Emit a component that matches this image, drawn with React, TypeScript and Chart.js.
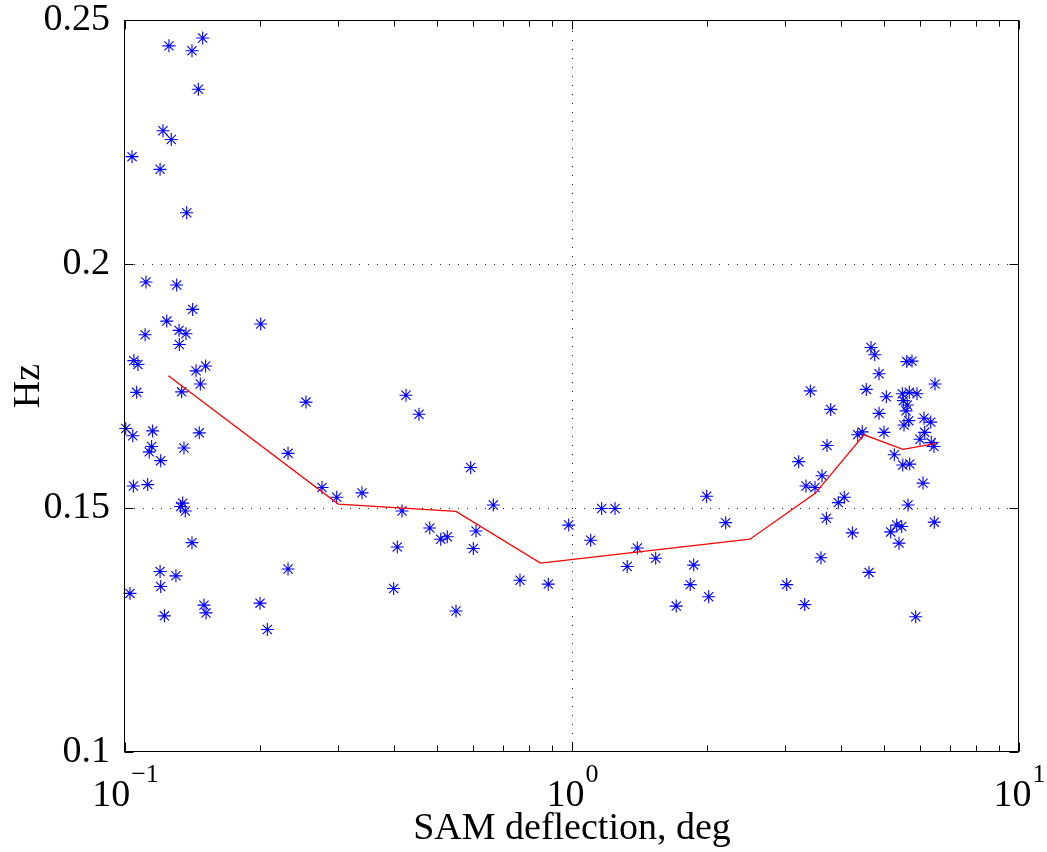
import React, { useEffect, useRef } from 'react';
import { Chart, registerables } from 'chart.js';

Chart.register(...registerables);

// ---- data ----
const samDeflection = [
  0.1254, 0.1492, 0.1412, 0.1459, 0.1216, 0.1269, 0.1037, 0.1198, 0.1374, 0.1114,
  0.1305, 0.1417, 0.1240, 0.1109, 0.1321, 0.1369, 0.1323, 0.1047, 0.1069, 0.1442,
  0.1515, 0.1062, 0.1339, 0.1474, 0.1004, 0.1153, 0.1041, 0.1466, 0.1147, 0.1133,
  0.1355, 0.1202, 0.1044, 0.1124, 0.1346, 0.1332, 0.1364, 0.1412, 0.1198, 0.1300,
  0.1202, 0.1026, 0.1225, 0.1502, 0.1518, 0.2012, 0.2540, 0.4252, 0.4547, 0.2316,
  0.5934, 0.2759, 0.2976, 0.3390, 0.4166, 0.6667, 0.9832, 0.4806, 0.5085, 0.5260,
  0.6099, 0.4066, 0.6015, 0.2316, 0.7650, 0.8851, 0.2005, 0.3991, 0.5502, 0.2082,
  1.165, 1.248, 1.101, 1.400, 1.539, 1.329, 2.001, 2.207, 1.872, 1.839,
  2.022, 1.711, 3.215, 3.338, 3.022, 3.316, 4.666, 4.756, 5.609, 5.763,
  4.863, 6.488, 3.413, 4.554, 5.048, 5.483, 5.684, 5.913, 5.512, 5.625,
  5.588, 3.791, 4.863, 6.131, 6.346, 5.530, 5.667, 4.989, 4.356, 4.460,
  6.152, 6.005, 6.365, 6.453, 3.720, 5.260, 5.494, 5.695, 3.625, 3.496,
  6.099, 4.066, 3.942, 5.645, 3.707, 6.464, 4.238, 5.326, 5.466, 5.164,
  5.390, 3.606, 4.618, 5.874,
];
const samHz = [
  0.2447, 0.2463, 0.2437, 0.2358, 0.2273, 0.2255, 0.2220, 0.2194, 0.2105, 0.1963,
  0.1957, 0.1907, 0.1883, 0.1855, 0.1864, 0.1857, 0.1835, 0.1802, 0.1794, 0.1781,
  0.1791, 0.1737, 0.1738, 0.1754, 0.1663, 0.1658, 0.1648, 0.1654, 0.1626, 0.1615,
  0.1623, 0.1597, 0.1545, 0.1548, 0.1510, 0.1503, 0.1494, 0.1429, 0.1370, 0.1361,
  0.1339, 0.1325, 0.1279, 0.1301, 0.1285, 0.1877, 0.1717, 0.1731, 0.1692, 0.1612,
  0.1583, 0.1542, 0.1522, 0.1531, 0.1494, 0.1506, 0.1465, 0.1459, 0.1436, 0.1441,
  0.1453, 0.1420, 0.1417, 0.1375, 0.1352, 0.1344, 0.1305, 0.1335, 0.1289, 0.1251,
  0.1499, 0.1499, 0.1434, 0.1418, 0.1397, 0.1380, 0.1524, 0.1470, 0.1383, 0.1343,
  0.1318, 0.1299, 0.1595, 0.1545, 0.1343, 0.1302, 0.1829, 0.1814, 0.1800, 0.1801,
  0.1775, 0.1754, 0.1740, 0.1743, 0.1728, 0.1734, 0.1737, 0.1734, 0.1720, 0.1711,
  0.1699, 0.1702, 0.1694, 0.1684, 0.1676, 0.1670, 0.1679, 0.1655, 0.1650, 0.1656,
  0.1655, 0.1641, 0.1634, 0.1626, 0.1628, 0.1609, 0.1588, 0.1590, 0.1566, 0.1542,
  0.1551, 0.1522, 0.1511, 0.1506, 0.1479, 0.1471, 0.1449, 0.1465, 0.1462, 0.1451,
  0.1428, 0.1398, 0.1368, 0.1277,
];
const fitDeflection = [0.125, 0.3, 0.55, 0.85, 2.5, 3.5, 4.5, 5.5, 6.5];
const fitHz = [0.1771, 0.1508, 0.1493, 0.1387, 0.1436, 0.153, 0.165, 0.162, 0.1632];

const yTickValues = [0.1, 0.15, 0.2, 0.25];
const xMajorTicks = [0.1, 1, 10];
const xTickExponents = ['\u22121', '0', '1'];
const xMinorTicks = [0.2, 0.3, 0.4, 0.5, 0.6, 0.7, 0.8, 0.9, 2, 3, 4, 5, 6, 7, 8, 9];
const xGridValues = [1];
const yGridValues = [0.15, 0.2];

const FONT = "'Liberation Serif', 'Times New Roman', Times, serif";

const matlabAxes = {
  id: 'matlabAxes',
  beforeDatasetsDraw(chart: any) {
    const { ctx, chartArea: a, scales } = chart;
    const x = scales.x;
    const y = scales.y;
    ctx.save();
    ctx.strokeStyle = '#222';
    ctx.lineWidth = 1;
    ctx.setLineDash([1, 8]);
    xGridValues.forEach((v) => {
      const px = Math.round(x.getPixelForValue(v)) + 0.5;
      ctx.beginPath();
      ctx.moveTo(px, a.bottom);
      ctx.lineTo(px, a.top);
      ctx.stroke();
    });
    yGridValues.forEach((v) => {
      const py = Math.round(y.getPixelForValue(v)) + 0.5;
      ctx.beginPath();
      ctx.moveTo(a.left, py);
      ctx.lineTo(a.right, py);
      ctx.stroke();
    });
    ctx.restore();
  },
  afterDatasetsDraw(chart: any) {
    const { ctx, chartArea: a, scales } = chart;
    const x = scales.x;
    const y = scales.y;
    const L = Math.round(a.left) - 0.5;
    const R = Math.round(a.right) - 0.5;
    const T = Math.round(a.top) + 0.5;
    const B = Math.round(a.bottom) - 0.5;
    ctx.save();
    ctx.strokeStyle = '#000';
    ctx.lineWidth = 1;
    ctx.setLineDash([]);
    ctx.strokeRect(L, T, R - L, B - T);
    const major = 9;
    const minor = 6;
    ctx.beginPath();
    xMajorTicks.forEach((v) => {
      const px = Math.round(x.getPixelForValue(v)) + 0.5;
      ctx.moveTo(px, B); ctx.lineTo(px, B - major);
      ctx.moveTo(px, T); ctx.lineTo(px, T + major);
    });
    xMinorTicks.forEach((v) => {
      const px = Math.round(x.getPixelForValue(v)) + 0.5;
      ctx.moveTo(px, B); ctx.lineTo(px, B - minor);
      ctx.moveTo(px, T); ctx.lineTo(px, T + minor);
    });
    yTickValues.forEach((v) => {
      const py = Math.round(y.getPixelForValue(v)) + 0.5;
      ctx.moveTo(L, py); ctx.lineTo(L + major, py);
      ctx.moveTo(R, py); ctx.lineTo(R - major, py);
    });
    ctx.stroke();

    // x tick labels: 10 with superscript exponent
    ctx.fillStyle = '#000';
    ctx.textBaseline = 'alphabetic';
    ctx.textAlign = 'left';
    const baseFont = `38px ${FONT}`;
    const expFont = `26px ${FONT}`;
    xMajorTicks.forEach((v, i) => {
      const px = x.getPixelForValue(v);
      ctx.font = baseFont;
      const w1 = ctx.measureText('10').width;
      ctx.font = expFont;
      const w2 = ctx.measureText(xTickExponents[i]).width;
      const start = px - (w1 + w2) / 2;
      ctx.font = baseFont;
      ctx.fillText('10', start, a.bottom + 54);
      ctx.font = expFont;
      ctx.fillText(xTickExponents[i], start + w1 + 1, a.bottom + 30);
    });
    ctx.restore();
  },
};

export default function App() {
  const canvasRef = useRef<HTMLCanvasElement | null>(null);

  useEffect(() => {
    const canvas = canvasRef.current;
    if (!canvas) return;
    const scatterPoints = samDeflection.map((v, i) => ({ x: v, y: samHz[i] }));
    const fitPoints = fitDeflection.map((v, i) => ({ x: v, y: fitHz[i] }));

    const chart = new Chart(canvas, {
      type: 'scatter',
      data: {
        datasets: [
          {
            label: 'fit',
            data: fitPoints,
            showLine: true,
            borderColor: '#ff0000',
            borderWidth: 1.3,
            pointRadius: 0,
            tension: 0,
            fill: false,
            order: 0,
          },
          {
            label: 'SAM',
            data: scatterPoints,
            showLine: false,
            pointStyle: 'star',
            pointRadius: 6.5,
            borderColor: '#0000ff',
            backgroundColor: '#0000ff',
            pointBorderWidth: 1.1,
            borderWidth: 1.1,
            clip: false,
            order: 1,
          },
        ],
      },
      options: {
        responsive: false,
        animation: false,
        events: [],
        layout: { padding: { top: 20, right: 28, left: 0, bottom: 0 } },
        plugins: {
          legend: { display: false },
          tooltip: { enabled: false },
        },
        scales: {
          x: {
            type: 'logarithmic',
            min: 0.1,
            max: 10,
            grid: { display: false },
            border: { display: false },
            ticks: { display: false },
            afterBuildTicks: (scale: any) => {
              scale.ticks = [...xMajorTicks, ...xMinorTicks]
                .sort((p, q) => p - q)
                .map((v) => ({ value: v }));
            },
            afterFit: (scale: any) => {
              scale.height = 100;
              scale.paddingLeft = 0;
              scale.paddingRight = 0;
            },
            title: {
              display: true,
              text: 'SAM deflection, deg',
              color: '#000',
              font: { family: FONT, size: 38, lineHeight: 1.2 },
              padding: { top: 0, bottom: 0 },
            },
          },
          y: {
            type: 'linear',
            min: 0.1,
            max: 0.25,
            grid: { display: false },
            border: { display: false },
            afterBuildTicks: (scale: any) => {
              scale.ticks = yTickValues.map((v) => ({ value: v }));
            },
            ticks: {
              color: '#000',
              padding: 7,
              font: { family: FONT, size: 38, lineHeight: 1.2 },
              callback: (v: any) => Number(v).toFixed(2).replace(/0$/, ''),
            },
            afterFit: (scale: any) => {
              scale.width = 125;
              scale.paddingTop = 0;
              scale.paddingBottom = 0;
            },
            title: {
              display: true,
              text: 'Hz',
              color: '#000',
              font: { family: FONT, size: 38, lineHeight: 1.2 },
              padding: { top: 6, bottom: 0 },
            },
          },
        },
      },
      plugins: [matlabAxes],
    } as any);

    return () => {
      chart.destroy();
    };
  }, []);

  return (
    <div
      style={{
        position: 'fixed',
        left: 0,
        top: 0,
        width: 1047,
        height: 852,
        background: '#fff',
      }}
    >
      <canvas ref={canvasRef} width={1047} height={852} style={{ width: 1047, height: 852, display: 'block' }} />
    </div>
  );
}
